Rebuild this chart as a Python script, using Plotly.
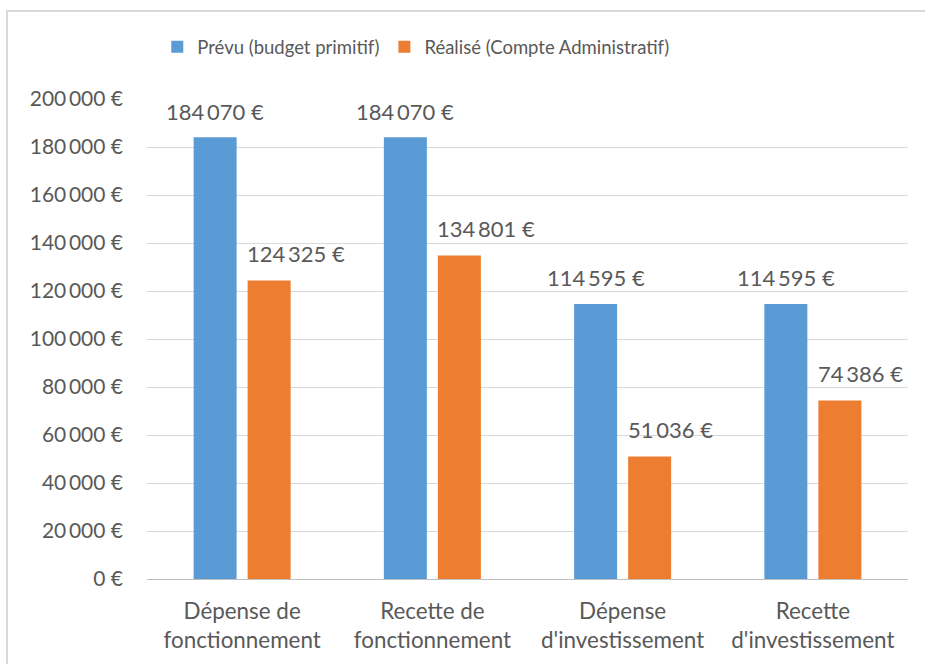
import plotly.graph_objects as go

categories = ["Dépense de<br>fonctionnement", "Recette de<br>fonctionnement",
              "Dépense<br>d'investissement", "Recette<br>d'investissement"]
prevu = [184070, 184070, 114595, 114595]
realise = [124325, 134801, 51036, 74386]
series_names = ["Prévu (budget primitif)", "Réalisé (Compte Administratif)"]
tick_values = [0, 20000, 40000, 60000, 80000, 100000, 120000, 140000, 160000, 180000, 200000]


def fmt(v):
    return f"{v:,}".replace(",", "\u2009") + "\u00a0€"


FONT = "Lato"
GREY = "#595959"
colors = ["#5b9bd5", "#ed7d31"]

fig = go.Figure()
for name, vals, col in zip(series_names, [prevu, realise], colors):
    fig.add_trace(go.Bar(
        x=categories, y=vals, name=name, marker=dict(color=col, line=dict(width=0)),
    ))

annotations = []
for c, v in zip(categories, prevu):
    annotations.append(dict(x=c, y=v, xref="x", yref="y", text=fmt(v), showarrow=False,
                            xshift=-27, yshift=26, yanchor="middle", xanchor="center",
                            font=dict(family=FONT, size=22, color=GREY)))
for c, v in zip(categories, realise):
    annotations.append(dict(x=c, y=v, xref="x", yref="y", text=fmt(v), showarrow=False,
                            xshift=3, yshift=27, yanchor="middle", xanchor="left",
                            font=dict(family=FONT, size=22, color=GREY)))

L, R, T, B = 147, 17, 99, 85
fig.update_layout(
    width=925, height=664,
    margin=dict(l=L, r=R, t=T, b=B),
    paper_bgcolor="white", plot_bgcolor="white",
    barmode="group", bargap=0.432, bargroupgap=0.204,
    font=dict(family=FONT, color=GREY),
    legend=dict(orientation="h", x=0.0135, xanchor="left", y=1.108, yanchor="middle",
                font=dict(family=FONT, size=18.5, color=GREY), traceorder="normal"),
    xaxis=dict(showline=True, linecolor="#bfbfbf", linewidth=1, ticks="",
               tickfont=dict(family=FONT, size=22.4, color=GREY), ticklabelstandoff=12),
    yaxis=dict(range=[0, 200000], tickvals=tick_values, ticktext=[fmt(v) for v in tick_values],
               showgrid=True, gridcolor="#d9d9d9", gridwidth=1, zeroline=False,
               tickfont=dict(family=FONT, size=21, color=GREY), ticks="", ticklen=0,
               ticklabelstandoff=23),
    annotations=annotations,
    shapes=[dict(type="rect", xref="paper", yref="paper",
                 x0=(7 - L) / 761, x1=1.1, y0=-0.3, y1=(579 - 11) / 480,
                 line=dict(color="#d9d9d9", width=2), layer="below")],
)
fig.write_html("out.html", config={"displayModeBar": False},
               post_script="document.body.style.margin='0';")
